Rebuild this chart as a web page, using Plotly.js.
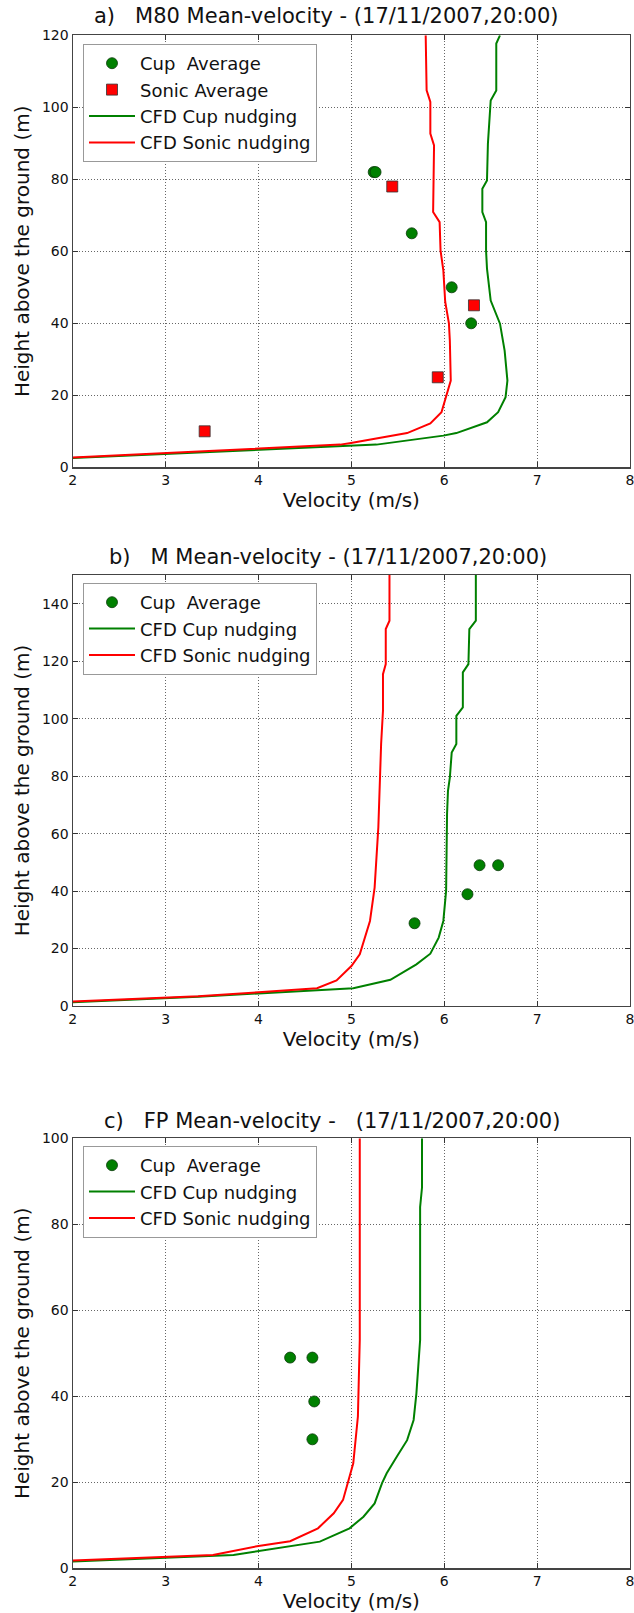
<!DOCTYPE html>
<html>
<head>
<meta charset="utf-8">
<script src="https://cdn.plot.ly/plotly-3.0.1.min.js"></script>
<style>html,body{margin:0;padding:0;background:#fff;}#chart{width:634px;height:1613px;}</style>
</head>
<body>
<div id="chart"></div>
<script>
// ---------- Panel a) M80 ----------
const aCupVel = [5.24, 5.26, 5.65, 6.08, 6.29];
const aCupH = [82, 82, 65, 50, 40];
const aSonicVel = [5.44, 6.32, 5.93, 3.42];
const aSonicH = [78, 45, 25, 10];
const aCfdCupVel = [6.60, 6.56, 6.56, 6.50, 6.47, 6.46, 6.41, 6.41, 6.45, 6.45, 6.46, 6.50, 6.60, 6.65, 6.68, 6.66, 6.58, 6.46, 6.13, 5.99, 5.27, 2.0];
const aCfdCupH = [120, 117.7, 104.7, 101.9, 89.9, 79.7, 77.4, 70.9, 68.1, 60.2, 55.2, 46.3, 39.9, 32.4, 24.1, 19.5, 15.3, 12.5, 9.5, 8.8, 6.3, 2.6];
const aCfdSonicVel = [5.80, 5.81, 5.85, 5.85, 5.89, 5.88, 5.95, 5.96, 5.99, 6.01, 6.05, 6.06, 6.07, 5.97, 5.85, 5.60, 4.98, 4.88, 2.0];
const aCfdSonicH = [120, 104.7, 101.5, 92.7, 89.4, 70.9, 68.1, 60.2, 54.7, 46, 40, 35.2, 24.1, 15.3, 12.2, 9.5, 6.7, 6.3, 2.7];

// ---------- Panel b) M ----------
const bCupVel = [5.68, 6.25, 6.38, 6.58];
const bCupH = [28.8, 38.9, 49, 49];
const bCfdCupVel = [6.34, 6.34, 6.27, 6.26, 6.20, 6.20, 6.13, 6.13, 6.08, 6.06, 6.04, 6.03, 6.02, 5.99, 5.94, 5.85, 5.70, 5.42, 5.02, 4.0, 3.35, 2.0];
const bCfdCupH = [150, 134.1, 131.2, 119, 116.1, 103.9, 101, 91.2, 88.2, 79.5, 74.9, 66.8, 40.1, 29.6, 23.8, 18.2, 14.5, 9.1, 6.2, 4.3, 3.2, 1.3];
const bCfdSonicVel = [5.41, 5.41, 5.37, 5.37, 5.34, 5.34, 5.32, 5.31, 5.29, 5.25, 5.20, 5.09, 5.00, 4.84, 4.63, 4.0, 3.35, 2.0];
const bCfdSonicH = [150, 134.1, 131.2, 119, 115.5, 102.7, 91.2, 78.4, 62.1, 41.2, 29.6, 18.0, 13.9, 8.9, 6.2, 4.8, 3.4, 1.6];

// ---------- Panel c) FP ----------
const cCupVel = [4.34, 4.58, 4.60, 4.58];
const cCupH = [49, 49, 38.8, 30];
const cCfdCupVel = [5.76, 5.76, 5.74, 5.74, 5.72, 5.70, 5.67, 5.60, 5.49, 5.38, 5.33, 5.25, 5.13, 4.98, 4.66, 4.37, 3.73, 2.0];
const cCfdCupH = [100, 88.5, 84, 53.1, 46.9, 40.7, 34.5, 29.8, 26.0, 22.1, 19.8, 15.1, 12.0, 9.3, 6.2, 5.2, 3.1, 1.6];
const cCfdSonicVel = [5.09, 5.09, 5.07, 5.02, 4.91, 4.81, 4.64, 4.34, 4.0, 3.75, 3.51, 2.0];
const cCfdSonicH = [100, 53.1, 35.3, 24.4, 15.9, 12.8, 9.3, 6.3, 5.2, 4.2, 3.1, 1.8];

const panelTitles = [
  "a)\u00a0\u00a0\u00a0M80 Mean-velocity - (17/11/2007,20:00)",
  "b)\u00a0\u00a0\u00a0M Mean-velocity - (17/11/2007,20:00)",
  "c)\u00a0\u00a0\u00a0FP Mean-velocity -\u00a0\u00a0\u00a0(17/11/2007,20:00)"
];
const legendNames = ["Cup\u00a0\u00a0Average", "Sonic Average", "CFD Cup nudging", "CFD Sonic nudging"];
const xTitle = "Velocity (m/s)";
const yTitle = "Height above the ground (m)";
const xTickVals = [2, 3, 4, 5, 6, 7, 8];

const GREEN = "#008000", RED = "#ff0000";
const FONT = "DejaVu Sans, Liberation Sans, sans-serif";

function cup(x, y, xa, ya, lg) {
  return {x: x, y: y, xaxis: xa, yaxis: ya, legend: lg, mode: "markers", type: "scatter",
    name: legendNames[0], marker: {symbol: "circle", size: 11, color: GREEN, line: {color: "#0a3a0a", width: 0.8}}, cliponaxis: false};
}
function sonic(x, y, xa, ya, lg) {
  return {x: x, y: y, xaxis: xa, yaxis: ya, legend: lg, mode: "markers", type: "scatter",
    name: legendNames[1], marker: {symbol: "square", size: 11, color: RED, line: {color: "#333", width: 0.8}}, cliponaxis: false};
}
function line(x, y, xa, ya, lg, name, color) {
  return {x: x, y: y, xaxis: xa, yaxis: ya, legend: lg, mode: "lines", type: "scatter",
    name: name, line: {color: color, width: 2}};
}

const data = [
  cup(aCupVel, aCupH, "x", "y", "legend"),
  sonic(aSonicVel, aSonicH, "x", "y", "legend"),
  line(aCfdCupVel, aCfdCupH, "x", "y", "legend", legendNames[2], GREEN),
  line(aCfdSonicVel, aCfdSonicH, "x", "y", "legend", legendNames[3], RED),
  cup(bCupVel, bCupH, "x2", "y2", "legend2"),
  line(bCfdCupVel, bCfdCupH, "x2", "y2", "legend2", legendNames[2], GREEN),
  line(bCfdSonicVel, bCfdSonicH, "x2", "y2", "legend2", legendNames[3], RED),
  cup(cCupVel, cCupH, "x3", "y3", "legend3"),
  line(cCfdCupVel, cCfdCupH, "x3", "y3", "legend3", legendNames[2], GREEN),
  line(cCfdSonicVel, cCfdSonicH, "x3", "y3", "legend3", legendNames[3], RED)
];

const H = 1613, W = 634;
const xDom = [72.8 / W, 630 / W];
const yDoms = [[1 - 467.3 / H, 1 - 35.3 / H], [1 - 1006 / H, 1 - 575 / H], [1 - 1568.3 / H, 1 - 1138.3 / H]];
const yRanges = [[0, 120], [0, 150], [0, 100]];
const legTops = [44, 583, 1146];
const titleY = [16, 556.7, 1120.7];
const titleX = [326, 328, 332];

function xaxis(i) {
  return {domain: xDom, anchor: i === 0 ? "y" : "y" + (i + 1), range: [2, 8], tickvals: xTickVals,
    ticks: "inside", ticklen: 5, tickcolor: "#333", tickwidth: 1, mirror: "ticks", showline: true,
    linecolor: "#444", linewidth: 1.3, showgrid: true, gridcolor: "#666", griddash: "1px,2px", gridwidth: 1,
    zeroline: false, automargin: false, ticklabeloverflow: "allow",
    tickfont: {size: 14, color: "#111", family: FONT},
    title: {text: xTitle, font: {size: 20, color: "#111", family: FONT}, standoff: 4}};
}
function yaxis(i) {
  return {domain: yDoms[i], anchor: i === 0 ? "x" : "x" + (i + 1), range: yRanges[i], dtick: 20, tick0: 0,
    ticks: "inside", ticklen: 5, tickcolor: "#333", tickwidth: 1, mirror: "ticks", showline: true,
    linecolor: "#444", linewidth: 1.3, showgrid: true, gridcolor: "#666", griddash: "1px,2px", gridwidth: 1,
    zeroline: false, automargin: false, ticklabeloverflow: "allow",
    tickfont: {size: 14, color: "#111", family: FONT},
    title: {text: yTitle, font: {size: 20, color: "#111", family: FONT}, standoff: 7}};
}
function legend(i) {
  return {x: 83 / W, y: 1 - legTops[i] / H, xanchor: "left", yanchor: "top", bgcolor: "#fff",
    bordercolor: "#999", borderwidth: 1, font: {size: 18, color: "#111", family: FONT}, itemwidth: 46,
    traceorder: "normal"};
}

const layout = {
  width: W, height: H, margin: {l: 0, r: 0, t: 0, b: 0}, paper_bgcolor: "#fff", plot_bgcolor: "#fff",
  font: {family: FONT, color: "#111"}, showlegend: true,
  xaxis: xaxis(0), xaxis2: xaxis(1), xaxis3: xaxis(2),
  yaxis: yaxis(0), yaxis2: yaxis(1), yaxis3: yaxis(2),
  legend: legend(0), legend2: legend(1), legend3: legend(2),
  annotations: panelTitles.map((t, i) => ({text: t, xref: "paper", yref: "paper", x: titleX[i] / W,
    y: 1 - titleY[i] / H, xanchor: "center", yanchor: "middle", showarrow: false,
    font: {size: 21, color: "#111", family: FONT}}))
};

Plotly.newPlot("chart", data, layout, {displayModeBar: false, staticPlot: true});
</script>
</body>
</html>
